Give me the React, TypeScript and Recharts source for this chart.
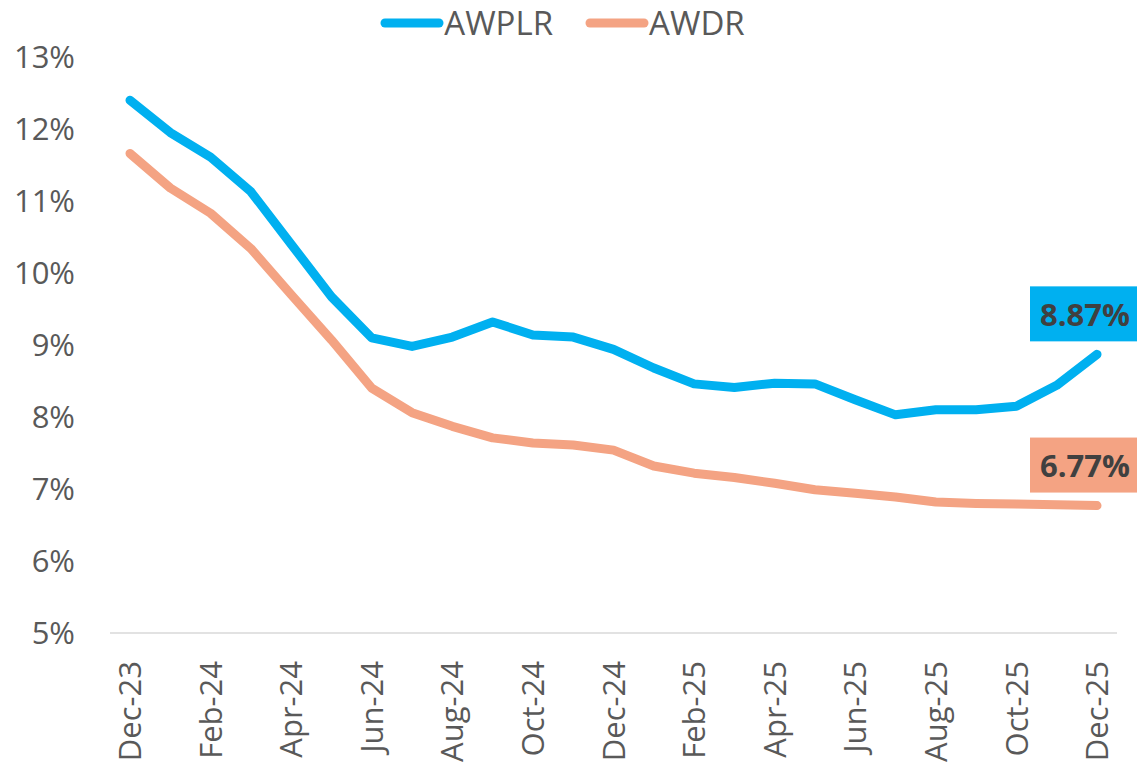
import React from "react";
import { Legend, Line, LineChart, XAxis, YAxis } from "recharts";

const months = [
  "Dec-23", "Jan-24", "Feb-24", "Mar-24", "Apr-24", "May-24", "Jun-24",
  "Jul-24", "Aug-24", "Sep-24", "Oct-24", "Nov-24", "Dec-24", "Jan-25",
  "Feb-25", "Mar-25", "Apr-25", "May-25", "Jun-25", "Jul-25", "Aug-25",
  "Sep-25", "Oct-25", "Nov-25", "Dec-25",
];

const awplr = [
  12.4, 11.95, 11.61, 11.13, 10.4, 9.67, 9.1, 8.98, 9.11, 9.32, 9.14, 9.11,
  8.94, 8.68, 8.46, 8.41, 8.47, 8.46, 8.24, 8.03, 8.1, 8.1, 8.15, 8.44, 8.87,
];

const awdr = [
  11.66, 11.18, 10.83, 10.34, 9.7, 9.07, 8.4, 8.06, 7.87, 7.71, 7.64, 7.61,
  7.54, 7.32, 7.22, 7.16, 7.08, 6.99, 6.94, 6.89, 6.82, 6.8, 6.79, 6.78, 6.77,
];

const yTicks = [5, 6, 7, 8, 9, 10, 11, 12, 13];

const BLUE = "#00B0F0";
const SALMON = "#F4A383";
const TEXT = "#595959";
const FONT = "'Open Sans', sans-serif";

const data = months.map((m, i) => ({ month: m, awplr: awplr[i], awdr: awdr[i] }));

const YTick = ({ x, y, payload }: any) => (
  <text x={x} y={y} dy="0.35em" textAnchor="end" fill={TEXT} fontSize={31} fontFamily={FONT}>
    {payload.value}%
  </text>
);

const XTick = ({ x, y, payload }: any) => (
  <text
    x={x}
    y={y}
    dy="0.36em"
    textAnchor="end"
    transform={`rotate(-90, ${x}, ${y})`}
    fill={TEXT}
    fontSize={31}
    fontFamily={FONT}
  >
    {payload.value}
  </text>
);

const endLabel = (color: string) => (props: any) => {
  const { x, y, index, value } = props;
  if (index !== months.length - 1) return null;
  return (
    <g>
      <rect x={x - 67} y={y - 68} width={112} height={55} fill={color} />
      <text
        x={x - 12}
        y={y - 40}
        dy="0.36em"
        textAnchor="middle"
        fill="#404040"
        fontSize={31}
        fontWeight="bold"
        fontFamily={FONT}
      >
        {value.toFixed(2)}%
      </text>
    </g>
  );
};

const legendItems = [
  { name: "AWPLR", color: BLUE },
  { name: "AWDR", color: SALMON },
];

const LegendContent = () => (
  <div style={{ display: "flex", justifyContent: "center", gap: 32, paddingRight: 12 }}>
    {legendItems.map((it) => (
      <div key={it.name} style={{ display: "flex", alignItems: "center" }}>
        <svg width={64} height={14}>
          <line x1={5} y1={7} x2={59} y2={7} stroke={it.color} strokeWidth={9} strokeLinecap="round" />
        </svg>
        <span style={{ color: TEXT, fontSize: 33, fontFamily: FONT, lineHeight: "normal" }}>{it.name}</span>
      </div>
    ))}
  </div>
);

export default function App() {
  return (
    <div style={{ position: "absolute", left: 0, top: 0, width: 1137, height: 765, background: "#fff" }}>
      <LineChart
        width={1137}
        height={765}
        data={data}
        margin={{ top: 57, right: 20, bottom: 22, left: 30 }}
      >
        <XAxis
          dataKey="month"
          interval={1}
          height={110}
          padding={{ left: 20, right: 20 }}
          tickLine={false}
          axisLine={{ stroke: "#D9D9D9", strokeWidth: 1.5 }}
          tick={<XTick />}
          tickMargin={22}
        />
        <YAxis
          width={80}
          domain={[5, 13]}
          ticks={yTicks}
          axisLine={false}
          tickLine={false}
          tickSize={0}
          tickMargin={35}
          tick={<YTick />}
        />
        <Legend
          verticalAlign="middle"
          align="center"
          layout="horizontal"
          wrapperStyle={{ top: 0, left: 0, width: 1137 }}
          content={<LegendContent />}
        />
        <Line
          dataKey="awplr"
          name="AWPLR"
          stroke={BLUE}
          strokeWidth={9}
          strokeLinecap="round"
          strokeLinejoin="round"
          dot={false}
          activeDot={false}
          isAnimationActive={false}
          label={endLabel(BLUE)}
        />
        <Line
          dataKey="awdr"
          name="AWDR"
          stroke={SALMON}
          strokeWidth={9}
          strokeLinecap="round"
          strokeLinejoin="round"
          dot={false}
          activeDot={false}
          isAnimationActive={false}
          label={endLabel(SALMON)}
        />
      </LineChart>
    </div>
  );
}
